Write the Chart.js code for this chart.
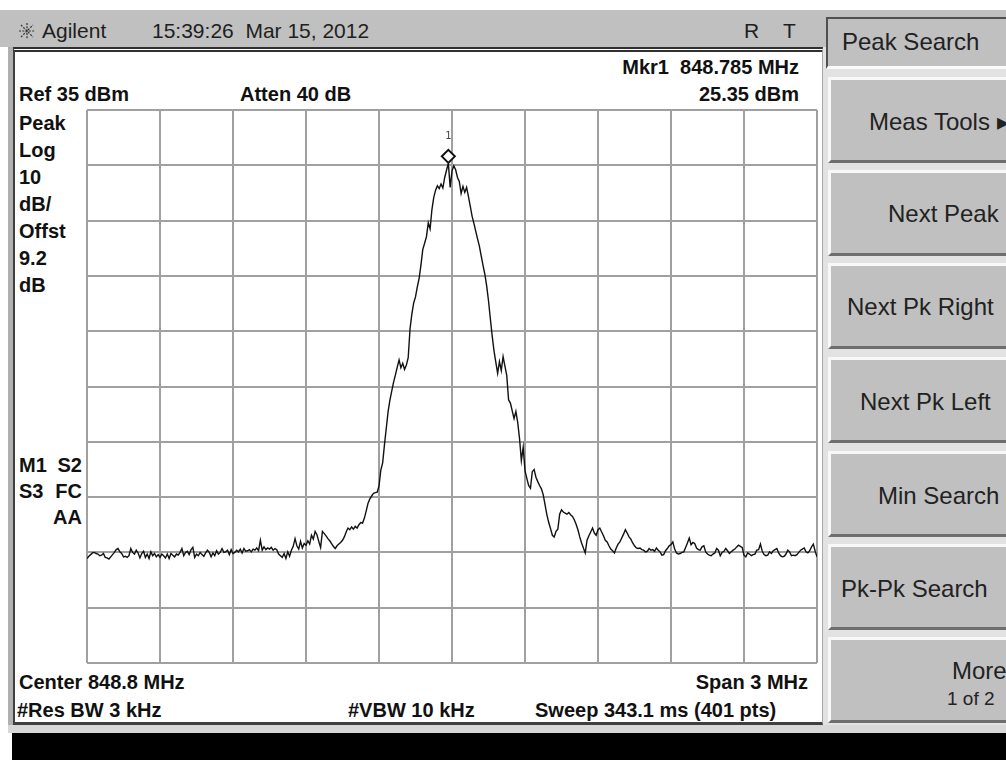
<!DOCTYPE html>
<html>
<head>
<meta charset="utf-8">
<title>Agilent - Peak Search</title>
<script src="https://cdn.jsdelivr.net/npm/chart.js@4.4.1/dist/chart.umd.min.js"></script>
<style>
  body { margin:0; width:1006px; height:760px; background:#fff; position:relative; overflow:hidden;
         font-family:"Liberation Sans", Arial, sans-serif; }
  .abs { position:absolute; white-space:nowrap; box-sizing:border-box; }
  .ttl { font-size:21px; line-height:21px; color:#1e1e1e; }
  .lbl { font-size:20px; line-height:20px; font-weight:bold; color:#111; }
  .key { font-size:24px; line-height:24px; color:#222; }
  .btn { left:828px; width:180px; height:86px; background:#c0c0c0;
         border-top:3px solid #f8f8f8; border-left:3px solid #f8f8f8; border-bottom:3px solid #6e6e6e; }
</style>
</head>
<body>
<!-- title bar -->
<div class="abs" style="left:0;top:10px;width:1006px;height:37px;background:#c0c0c0"></div>
<svg class="abs" style="left:18px;top:22px" width="18" height="18" viewBox="-9 -9 18 18">
  <g stroke="#333" stroke-width="1.2" stroke-dasharray="2 1.3">
    <line x1="0" y1="-8" x2="0" y2="8"/><line x1="-8" y1="0" x2="8" y2="0"/>
    <line x1="-6" y1="-6" x2="6" y2="6"/><line x1="-6" y1="6" x2="6" y2="-6"/>
  </g>
</svg>
<div class="abs ttl" style="left:42px;top:20px">Agilent</div>
<div class="abs ttl" style="left:152px;top:20px">15:39:26&nbsp; Mar 15, 2012</div>
<div class="abs ttl" style="left:744px;top:20px">R</div>
<div class="abs ttl" style="left:783px;top:20px">T</div>

<!-- measurement screen -->
<div class="abs" style="left:8px;top:47px;width:6px;height:678px;background:#b0b0b0"></div>
<div class="abs" style="left:13px;top:47px;width:810px;height:678px;background:#fff;
     border-top:5px double #303030;border-left:2px solid #404040;border-bottom:3px solid #404040;border-right:1px solid #a8a8a8"></div>
<div class="abs" style="left:8px;top:725px;width:998px;height:8px;background:#d8d8d8"></div>
<div class="abs" style="left:12px;top:733px;width:994px;height:27px;background:#000"></div>

<div class="abs lbl" style="right:207px;top:57px">Mkr1&nbsp; 848.785 MHz</div>
<div class="abs lbl" style="left:19px;top:84px">Ref 35 dBm</div>
<div class="abs lbl" style="left:240px;top:84px">Atten 40 dB</div>
<div class="abs lbl" style="right:207px;top:84px">25.35 dBm</div>

<div class="abs lbl" style="left:19px;top:113px">Peak</div>
<div class="abs lbl" style="left:19px;top:140px">Log</div>
<div class="abs lbl" style="left:19px;top:167px">10</div>
<div class="abs lbl" style="left:19px;top:194px">dB/</div>
<div class="abs lbl" style="left:19px;top:221px">Offst</div>
<div class="abs lbl" style="left:19px;top:248px">9.2</div>
<div class="abs lbl" style="left:19px;top:275px">dB</div>

<div class="abs lbl" style="left:19px;top:455px">M1</div>
<div class="abs lbl" style="right:924px;top:455px">S2</div>
<div class="abs lbl" style="left:19px;top:481px">S3</div>
<div class="abs lbl" style="right:924px;top:481px">FC</div>
<div class="abs lbl" style="right:924px;top:507px">AA</div>

<div class="abs lbl" style="left:19px;top:672px">Center 848.8 MHz</div>
<div class="abs lbl" style="right:198px;top:672px">Span 3 MHz</div>
<div class="abs lbl" style="left:17px;top:700px">#Res BW 3 kHz</div>
<div class="abs lbl" style="left:348px;top:700px">#VBW 10 kHz</div>
<div class="abs lbl" style="left:535px;top:700px">Sweep 343.1 ms (401 pts)</div>

<canvas id="trace" class="abs" style="left:82px;top:105px" width="740" height="563"></canvas>

<!-- softkeys -->
<div class="abs" style="left:823px;top:47px;width:183px;height:678px;background:#e2e2e2"></div>
<div class="abs" style="left:826px;top:17px;width:180px;height:52px;background:#c0c0c0;
     border-left:2px solid #505050;border-top:2px solid #505050;border-bottom:3px solid #fafafa"></div>
<div class="abs key" style="left:842px;top:30px">Peak Search</div>

<div class="abs btn" style="top:77px"></div>
<div class="abs btn" style="top:170px"></div>
<div class="abs btn" style="top:263px"></div>
<div class="abs btn" style="top:357px"></div>
<div class="abs btn" style="top:451px"></div>
<div class="abs btn" style="top:544px"></div>
<div class="abs btn" style="top:637px"></div>

<div class="abs key" style="left:869px;top:110px">Meas Tools &#9656;</div>
<div class="abs key" style="left:888px;top:202px">Next Peak</div>
<div class="abs key" style="left:847px;top:295px">Next Pk Right</div>
<div class="abs key" style="left:860px;top:390px">Next Pk Left</div>
<div class="abs key" style="left:878px;top:484px">Min Search</div>
<div class="abs key" style="left:841px;top:577px">Pk-Pk Search</div>
<div class="abs key" style="left:952px;top:659px">More</div>
<div class="abs key" style="left:947px;top:689px;font-size:19px;line-height:19px">1 of 2</div>

<script>
// sweep settings
const startMHz = 847.3;
const stopMHz = 850.3;
const sweepPoints = 401;
const refLevel = 35;
const bottomLevel = -65;

// grid tick values
const freqTicks = [847.3, 847.6, 847.9, 848.2, 848.5, 848.8, 849.1, 849.4, 849.7, 850.0, 850.3];
const levelTicks = [-65, -55, -45, -35, -25, -15, -5, 5, 15, 25, 35];

// marker 1
const mkrFreq = 848.785;
const mkrLevel = 25.35;

// trace values in dBm (401 pts)
const traceDbm = [
  -46.1, -45.7, -45.4, -45.1, -45.0, -45.2, -45.3, -45.6, -45.5, -45.2, -45.9, -46.0, -46.2, -45.8, -45.4, -45.0, -44.5, -44.3, -44.9, -45.2,
  -45.8, -45.7, -45.9, -45.6, -44.3, -45.0, -45.3, -44.6, -45.1, -46.0, -45.2, -44.8, -45.9, -45.3, -46.1, -44.9, -45.6, -45.2, -45.8, -45.4,
  -45.9, -45.3, -45.6, -46.0, -45.3, -46.1, -45.2, -45.5, -45.8, -45.3, -45.5, -45.0, -44.3, -45.6, -45.0, -44.8, -45.4, -44.5, -44.1, -45.9,
  -45.3, -45.6, -45.0, -45.4, -45.7, -45.1, -44.6, -45.0, -45.8, -45.1, -45.6, -44.7, -45.3, -45.0, -44.3, -45.0, -44.9, -44.6, -45.4, -44.5,
  -45.2, -45.0, -44.6, -44.9, -44.4, -45.1, -44.3, -44.8, -44.7, -44.5, -44.9, -44.4, -44.6, -44.2, -44.7, -42.8, -44.6, -44.0, -44.5, -44.2,
  -44.4, -44.1, -44.6, -44.3, -44.5, -45.3, -45.6, -45.9, -45.2, -46.1, -44.9, -45.7, -44.6, -43.9, -42.5, -43.8, -44.4, -43.0, -44.2, -43.4,
  -43.7, -42.9, -43.5, -41.9, -42.6, -41.2, -41.8, -43.0, -44.1, -41.2, -41.6, -42.0, -42.5, -42.9, -43.4, -43.9, -44.3, -43.8, -43.5, -43.2,
  -42.8, -42.2, -41.3, -40.6, -40.9, -40.4, -40.8, -40.3, -40.6, -40.0, -39.6, -39.7, -38.8, -37.5, -36.1, -35.3, -34.8, -34.3, -34.2, -34.1,
  -33.0, -30.1, -28.8, -25.5, -22.5, -19.5, -17.4, -15.8, -14.2, -12.9, -11.5, -10.2, -11.6, -10.8, -11.9, -11.1, -9.8, -4.6, -1.9, 0.1,
  1.2, 3.0, 4.6, 7.0, 9.8, 10.9, 12.1, 14.6, 13.5, 17.0, 19.2, 20.5, 21.3, 20.8, 21.6, 20.9, 22.8, 24.1, 25.35, 21.0,
  24.0, 24.9, 24.2, 22.8, 22.1, 19.9, 21.2, 20.1, 21.0, 19.4, 17.6, 15.8, 14.5, 13.1, 11.7, 10.4, 8.6, 6.9, 5.3, 3.2,
  0.5, -2.7, -5.8, -8.5, -10.6, -12.6, -10.5, -12.1, -9.6, -11.3, -13.0, -17.4, -18.0, -19.4, -20.8, -19.5, -21.5, -24.4, -28.4, -26.0,
  -30.2, -31.6, -32.9, -33.4, -30.4, -30.0, -31.4, -32.2, -32.9, -33.5, -34.6, -36.4, -38.2, -39.6, -40.7, -41.9, -42.2, -41.2, -40.8, -38.1,
  -37.3, -37.7, -37.9, -38.1, -37.8, -38.2, -38.5, -39.1, -39.9, -40.9, -42.2, -43.3, -44.2, -45.1, -42.8, -42.0, -41.3, -40.6, -41.5, -41.9,
  -40.9, -40.6, -41.3, -42.0, -42.8, -43.1, -43.8, -44.4, -44.7, -45.1, -44.2, -43.5, -43.1, -42.4, -41.7, -40.9, -41.5, -42.2, -42.6, -43.3,
  -43.8, -44.2, -44.3, -44.2, -44.5, -44.6, -44.9, -44.8, -44.3, -44.6, -44.5, -44.8, -44.2, -44.6, -44.9, -45.5, -45.4, -44.7, -44.3, -43.8,
  -43.6, -43.1, -44.4, -45.1, -45.3, -45.2, -45.0, -44.9, -44.1, -43.3, -42.4, -43.6, -43.2, -43.4, -44.2, -44.5, -44.6, -44.0, -43.8, -44.9,
  -45.3, -45.5, -45.6, -45.3, -45.1, -44.3, -44.6, -45.6, -45.0, -44.8, -44.3, -44.7, -45.2, -44.9, -44.6, -44.4, -44.0, -43.7, -43.9, -44.1,
  -45.5, -45.8, -45.1, -45.3, -45.6, -45.4, -45.3, -44.6, -44.5, -43.5, -44.8, -45.4, -45.6, -45.5, -44.9, -45.2, -44.7, -44.5, -44.3, -45.1,
  -45.6, -45.8, -45.7, -45.3, -44.6, -44.9, -45.6, -45.5, -45.6, -45.4, -45.0, -44.6, -44.4, -44.2, -44.9, -45.1, -44.7, -44.0, -43.5, -44.8,
  -45.8
];

const stepMHz = (stopMHz - startMHz) / (sweepPoints - 1);
const points = traceDbm.map((v, i) => ({ x: startMHz + i * stepMHz, y: v }));

// marker diamond with its number, placed through the chart scales
const markerPlugin = {
  id: 'marker1',
  afterDatasetsDraw(chart) {
    const { ctx, scales } = chart;
    const px = scales.x.getPixelForValue(mkrFreq);
    const py = scales.y.getPixelForValue(mkrLevel);
    const cy = py - 7, r = 6.5;
    ctx.save();
    ctx.beginPath();
    ctx.moveTo(px, cy - r);
    ctx.lineTo(px + r, cy);
    ctx.lineTo(px, cy + r);
    ctx.lineTo(px - r, cy);
    ctx.closePath();
    ctx.fillStyle = '#fff';
    ctx.fill();
    ctx.lineWidth = 2;
    ctx.strokeStyle = '#111';
    ctx.stroke();
    ctx.fillStyle = '#444';
    ctx.font = '10px "DejaVu Sans Mono", monospace';
    ctx.textAlign = 'center';
    ctx.textBaseline = 'middle';
    ctx.fillText('1', px, py - 27);
    ctx.restore();
  }
};

const gridStyle = { color: '#a0a0a0', lineWidth: 2, drawTicks: false };

new Chart(document.getElementById('trace'), {
  type: 'line',
  data: {
    datasets: [{
      data: points,
      borderColor: '#111',
      borderWidth: 1.4,
      pointRadius: 0,
      tension: 0,
      fill: false
    }]
  },
  options: {
    animation: false,
    responsive: false,
    devicePixelRatio: 1,
    layout: { padding: 5 },
    plugins: { legend: { display: false }, tooltip: { enabled: false } },
    scales: {
      x: {
        type: 'linear',
        min: startMHz,
        max: stopMHz,
        afterBuildTicks: axis => { axis.ticks = freqTicks.map(v => ({ value: v })); },
        afterFit: axis => { axis.height = 0; },
        ticks: { display: false },
        grid: gridStyle,
        border: { display: false }
      },
      y: {
        min: bottomLevel,
        max: refLevel,
        afterBuildTicks: axis => { axis.ticks = levelTicks.map(v => ({ value: v })); },
        afterFit: axis => { axis.width = 0; },
        ticks: { display: false },
        grid: gridStyle,
        border: { display: false }
      }
    }
  },
  plugins: [markerPlugin]
});
</script>
</body>
</html>
